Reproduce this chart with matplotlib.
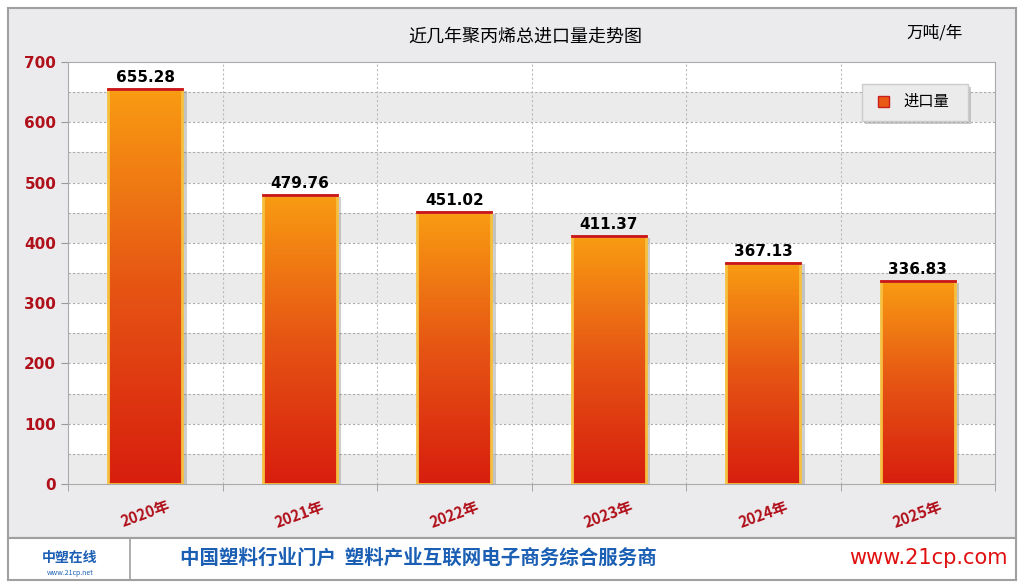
import matplotlib
matplotlib.use("Agg")
import matplotlib.pyplot as plt
import numpy as np
from matplotlib.patches import Rectangle
from matplotlib.colors import LinearSegmentedColormap

plt.rcParams['font.family'] = ['Noto Sans CJK SC', 'DejaVu Sans']

categories = ['2020年', '2021年', '2022年', '2023年', '2024年', '2025年']
values = [655.28, 479.76, 451.02, 411.37, 367.13, 336.83]
yticks = [0, 100, 200, 300, 400, 500, 600, 700]

W, H = 1024, 586
fig = plt.figure(figsize=(W/100, H/100), dpi=100)
fig.patch.set_facecolor('white')

def frect(x, y, w, h, z, **kw):
    fig.patches.append(Rectangle((x/W, 1-(y+h)/H), w/W, h/H, transform=fig.transFigure, zorder=z, **kw))

frect(8, 8, 1008, 530, -10, facecolor='#ebebee', edgecolor='#a0a0a0', lw=1.5)
frect(8, 538, 1008, 42, -10, facecolor='white', edgecolor='#a0a0a0', lw=1.5)
fig.add_artist(plt.Line2D([130/W, 130/W], [1-580/H, 1-538/H], color='#a0a0a0', lw=1.2, zorder=-9))

ax = fig.add_axes([68/W, 1-484/H, 927/W, 422/H])
ax.set_zorder(0)
ax.set_facecolor('white')
ax.set_xlim(0, len(categories))
ax.set_ylim(0, 700)
for k in range(0, 700, 100):
    ax.axhspan(k, k+50, color='#ebebeb', zorder=0, lw=0)
for y in range(50, 700, 50):
    ax.axhline(y, color='#aaaaaa', ls=(0, (2, 2)), lw=0.8, zorder=0.5)
for i in range(1, len(categories)):
    ax.axvline(i, color='#bbbbbb', ls=(0, (2, 2)), lw=0.8, zorder=0.5)

cmap = LinearSegmentedColormap.from_list('g', ['#d81e0e', '#e65514', '#f99c12'])
grad = np.linspace(0, 1, 256).reshape(-1, 1)
bw = 0.48
for i, v in enumerate(values):
    x0 = i + 0.5 - bw/2
    ax.add_patch(Rectangle((x0+0.03, -3), bw, v, facecolor='#777777', alpha=0.35, lw=0, zorder=1.5))
    im = ax.imshow(grad, cmap=cmap, origin='lower', extent=[x0, x0+bw, 0, v], aspect='auto', zorder=2)
    r = Rectangle((x0, 0), bw, v, facecolor='none', edgecolor='#f5c040', lw=2, zorder=3)
    ax.add_patch(r)
    im.set_clip_path(r)
    ax.plot([x0, x0+bw], [v, v], color='#c8141e', lw=2, zorder=3.5)
    ax.text(i+0.5, v+6, f'{v:.2f}', ha='center', va='bottom', fontsize=11, fontweight='bold',
            family='DejaVu Sans', zorder=4)
ax.set_xticks(np.arange(len(categories))+0.5)
ax.set_xticklabels(categories, rotation=20, color='#b0101a', fontsize=11, fontweight='bold')
ax.set_xticks(np.arange(len(categories)+1), minor=True)
ax.tick_params(axis='x', which='major', length=0, pad=10)
ax.tick_params(axis='x', which='minor', length=5, color='#999999')
ax.set_yticks(yticks)
ax.set_yticklabels([str(t) for t in yticks], color='#b0101a', fontsize=11, fontweight='bold',
                   family='DejaVu Sans')
ax.tick_params(axis='y', length=5, color='#999999')
for s in ax.spines.values():
    s.set_color('#aaaaaa')

fig.text(525/W, 1-37/H, '近几年聚丙烯总进口量走势图', ha='center', va='center', fontsize=13)
fig.text(935/W, 1-33/H, '万吨/年', ha='center', va='center', fontsize=12)

# legend
frect(865, 87, 106, 37, 10, facecolor='#999999', alpha=0.5, lw=0)
frect(862, 84, 106, 37, 11, facecolor='#ebebeb', edgecolor='#cccccc', lw=1)
frect(878, 96, 11, 11, 12, facecolor='#ea5a14', edgecolor='#c81e1e', lw=1)
fig.text(903/W, 1-101/H, '进口量', va='center', fontsize=11, zorder=13)

# footer text
fig.text(70/W, 1-558/H, '中塑在线', ha='center', va='center', fontsize=10, color='#1a5fb4',
         fontweight='bold', style='italic')
fig.text(70/W, 1-573/H, 'www.21cp.net', ha='center', va='center', fontsize=5, color='#1a5fb4',
         style='italic')
fig.text(180/W, 1-558/H, '中国塑料行业门户  塑料产业互联网电子商务综合服务商', va='center',
         fontsize=14, color='#1a5fb4', fontweight='bold')
fig.text(1008/W, 1-558/H, 'www.21cp.com', ha='right', va='center', fontsize=15, color='#e01010',
         family='DejaVu Sans')

fig.savefig('out.png', dpi=100)
